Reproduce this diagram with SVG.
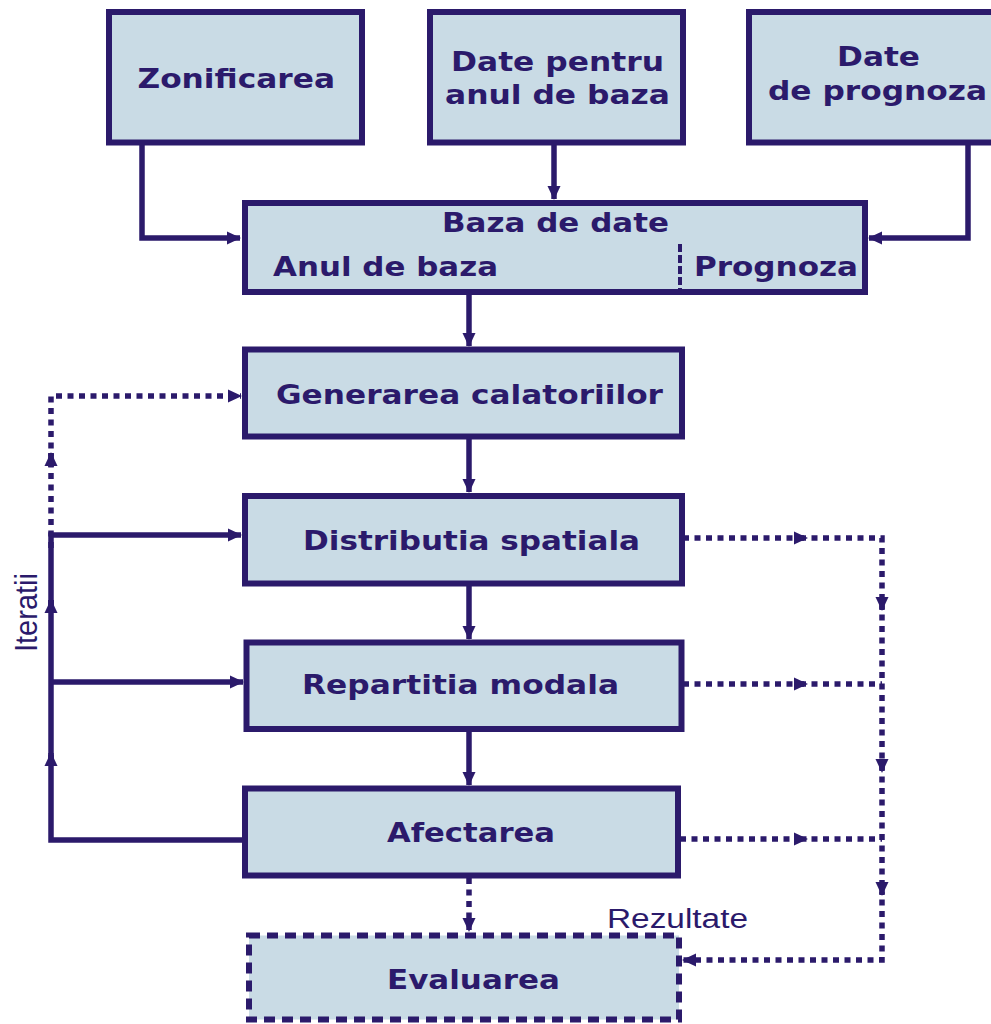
<svg xmlns="http://www.w3.org/2000/svg" width="991" height="1024" viewBox="0 0 991 1024">
<style>
.box{fill:#c9dbe5;stroke:#2b1a6b;stroke-width:6}
.dbox{fill:#c9dbe5;stroke:#2b1a6b;stroke-width:6;stroke-dasharray:11 7}
.t{font-family:"DejaVu Sans","Liberation Sans",sans-serif;font-weight:bold;font-size:27px;fill:#2b1a6b}
.n{font-family:"Liberation Sans","DejaVu Sans",sans-serif;font-weight:normal;fill:#2b1a6b}
.c{fill:none;stroke:#2b1a6b;stroke-width:5.5}
.d{fill:none;stroke:#2b1a6b;stroke-width:5.5;stroke-dasharray:6 5.5}
</style>
<defs>
<marker id="ah" markerUnits="userSpaceOnUse" markerWidth="14" markerHeight="14" viewBox="0 0 14 14" refX="13" refY="7" orient="auto">
<path d="M0,0.5 L14,7 L0,13.5 z" fill="#2b1a6b"/>
</marker>
</defs>
<rect width="991" height="1024" fill="#ffffff"/>
<g id="connectors">
<path class="c" d="M142,145 V238 H240" marker-end="url(#ah)"/>
<path class="c" d="M554,145 V199" marker-end="url(#ah)"/>
<path class="c" d="M968,145 V238 H869" marker-end="url(#ah)"/>
<path class="c" d="M469,294 V346" marker-end="url(#ah)"/>
<path class="c" d="M469,439 V492" marker-end="url(#ah)"/>
<path class="c" d="M469,586 V639" marker-end="url(#ah)"/>
<path class="c" d="M469,732 V785" marker-end="url(#ah)"/>
<path class="c" d="M243,840 H51 V755"/>
<path class="c" d="M51,765 V753" marker-end="url(#ah)"/>
<path class="c" d="M51,760 V600"/>
<path class="c" d="M51,612 V600" marker-end="url(#ah)"/>
<path class="c" d="M51,607 V535 H241" marker-end="url(#ah)"/>
<path class="c" d="M51,682 H243" marker-end="url(#ah)"/>
<path class="d" d="M51,548 V453"/>
<path class="c" d="M51,467 V453" marker-end="url(#ah)"/>
<path class="d" d="M51,460 V396 H241" marker-end="url(#ah)"/>
<path class="d" d="M469,878 V931" marker-end="url(#ah)"/>
<path class="d" d="M683,538 H807" marker-end="url(#ah)"/>
<path class="d" d="M800,538 H882 V610" marker-end="url(#ah)"/>
<path class="d" d="M882,603 V772" marker-end="url(#ah)"/>
<path class="d" d="M882,765 V895" marker-end="url(#ah)"/>
<path class="d" d="M882,888 V960 H683" marker-end="url(#ah)"/>
<path class="d" d="M683,684 H807" marker-end="url(#ah)"/>
<path class="d" d="M800,684 H882"/>
<path class="d" d="M680,839 H807" marker-end="url(#ah)"/>
<path class="d" d="M800,839 H882"/>
</g>
<g id="zonificarea">
<rect class="box" x="109" y="12" width="253" height="130.5"/>
<text class="t" x="137.5" y="88" textLength="197.5" lengthAdjust="spacingAndGlyphs">Zonificarea</text>
</g>
<g id="date-anul-baza">
<rect class="box" x="430" y="12" width="253" height="130.5"/>
<text class="t" x="451" y="70.5" textLength="213" lengthAdjust="spacingAndGlyphs">Date pentru</text>
<text class="t" x="445" y="104" textLength="225" lengthAdjust="spacingAndGlyphs">anul de baza</text>
</g>
<g id="date-prognoza">
<rect class="box" x="749" y="12" width="260" height="130.5"/>
<text class="t" x="837" y="66" textLength="83" lengthAdjust="spacingAndGlyphs">Date</text>
<text class="t" x="768" y="99.5" textLength="219" lengthAdjust="spacingAndGlyphs">de prognoza</text>
</g>
<g id="baza-de-date">
<rect class="box" x="245" y="203" width="620" height="89"/>
<line x1="680" y1="244" x2="680" y2="290" stroke="#2b1a6b" stroke-width="4" stroke-dasharray="8 3"/>
<text class="t" x="442" y="232" textLength="227" lengthAdjust="spacingAndGlyphs">Baza de date</text>
<text class="t" x="273" y="276" textLength="225" lengthAdjust="spacingAndGlyphs">Anul de baza</text>
<text class="t" x="694" y="276" textLength="164" lengthAdjust="spacingAndGlyphs">Prognoza</text>
</g>
<g id="generarea">
<rect class="box" x="245" y="349.5" width="437" height="87"/>
<text class="t" x="276" y="403.5" textLength="387" lengthAdjust="spacingAndGlyphs">Generarea calatoriilor</text>
</g>
<g id="distributia">
<rect class="box" x="245" y="496" width="437" height="87.5"/>
<text class="t" x="303" y="550" textLength="337" lengthAdjust="spacingAndGlyphs">Distributia spatiala</text>
</g>
<g id="repartitia">
<rect class="box" x="246.5" y="642.5" width="435" height="86.5"/>
<text class="t" x="302" y="693.5" textLength="317" lengthAdjust="spacingAndGlyphs">Repartitia modala</text>
</g>
<g id="afectarea">
<rect class="box" x="245" y="788.5" width="433" height="87"/>
<text class="t" x="387" y="841.5" textLength="168" lengthAdjust="spacingAndGlyphs">Afectarea</text>
</g>
<g id="evaluarea">
<rect class="dbox" x="249" y="935.5" width="430" height="84"/>
<text class="t" x="387" y="988.5" textLength="173" lengthAdjust="spacingAndGlyphs">Evaluarea</text>
</g>
<g id="labels">
<text class="n" x="607" y="928" font-size="27" textLength="141" lengthAdjust="spacingAndGlyphs">Rezultate</text>
<text class="n" transform="translate(37,652) rotate(-90)" font-size="32" textLength="79" lengthAdjust="spacingAndGlyphs">Iteratii</text>
</g>
</svg>
